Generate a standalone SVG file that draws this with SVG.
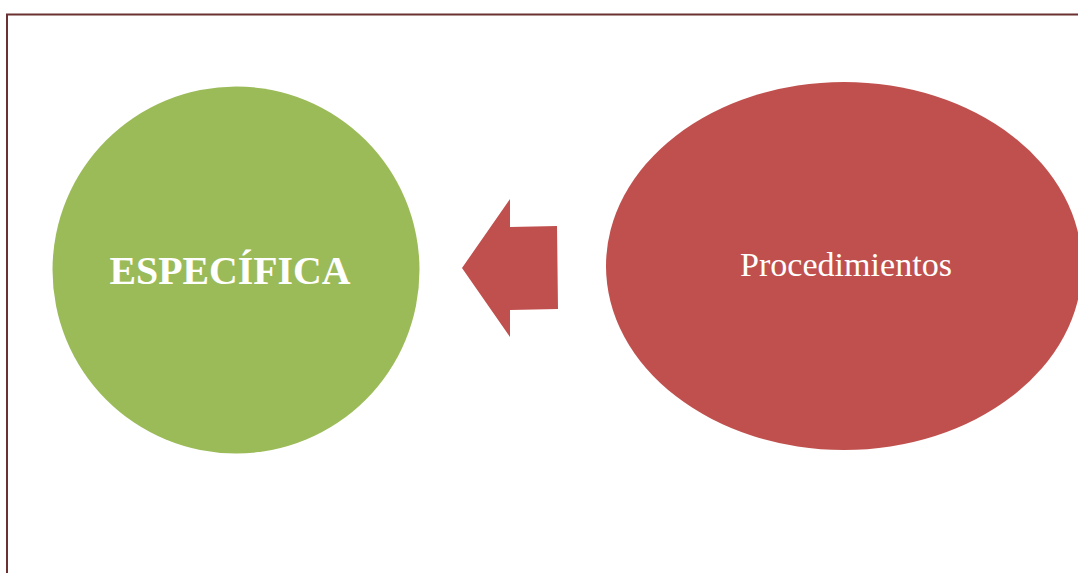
<svg xmlns="http://www.w3.org/2000/svg" width="1078" height="573" viewBox="0 0 1078 573">
<style>
.frame{fill:none;stroke:#6b3030;stroke-width:2}
.lbl{font-family:"Liberation Serif","DejaVu Serif",serif;fill:#ffffff;text-anchor:middle}
</style>
<rect x="0" y="0" width="1078" height="573" fill="#ffffff"/>
<path class="frame" d="M7,573 V14.5 H1078"/>
<g id="node-especifica">
<circle cx="236" cy="270" r="183.5" fill="#9BBB59"/>
<text class="lbl" x="230" y="284" font-size="41" font-weight="bold" textLength="241" lengthAdjust="spacingAndGlyphs">ESPECÍFICA</text>
</g>
<g id="node-procedimientos">
<ellipse cx="844" cy="266" rx="238" ry="184" fill="#C0504D"/>
<text class="lbl" x="846" y="276" font-size="34" textLength="212" lengthAdjust="spacingAndGlyphs">Procedimientos</text>
</g>
<g id="connectors">
<polygon points="462,268 510,199 510,227 557,226 558,309 510,310 510,337" fill="#C0504D"/>
</g>
</svg>
